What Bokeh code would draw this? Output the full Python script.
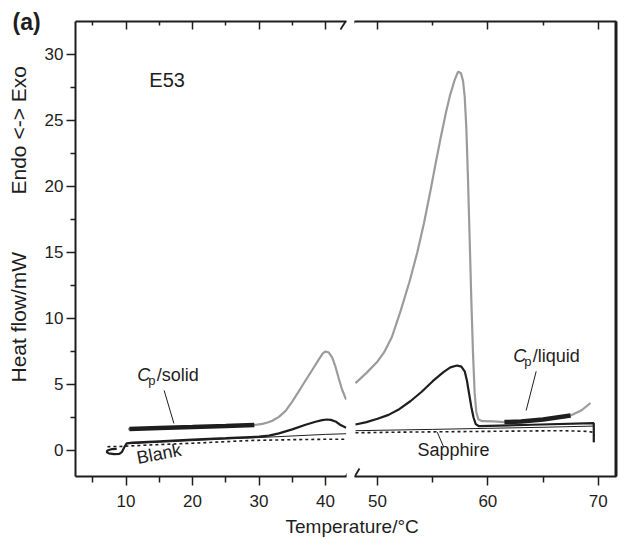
import math
from bokeh.plotting import figure
from bokeh.layouts import column, row
from bokeh.models import FixedTicker, Label, Arrow, LinearAxis, Range1d, Span
from bokeh.embed import file_html
from bokeh.resources import INLINE

FONT = "Liberation Sans"
INK = "#1e1e1e"
GRAY = "#9b9b9b"

# ---------------- data ----------------
y_major = [0, 5, 10, 15, 20, 25, 30]
y_minor = [2.5, 7.5, 12.5, 17.5, 22.5, 27.5]
xL_major = [10, 20, 30, 40]
xL_minor = [5, 15, 25, 35]
xR_major = [50, 60, 70]
xR_minor = [55, 65]

# left segment (below the axis break)
gray_L_T = [10.3, 12, 15, 20, 25, 29.3, 30.5, 31.3, 32.0, 33.0, 34.0, 35.0, 36.0, 37.0, 38.0, 39.0,
            39.6, 40.0, 40.5, 41.0, 41.5, 42.0, 42.5, 43.1]
gray_L_y = [1.62, 1.66, 1.71, 1.78, 1.86, 1.93, 2.02, 2.12, 2.25, 2.55, 3.0, 3.7, 4.5, 5.3, 6.1, 6.9,
            7.35, 7.5, 7.42, 7.05, 6.35, 5.45, 4.6, 3.86]
sample_L_T = [8.6, 7.8, 7.2, 7.1, 7.4, 8.2, 9.0, 9.4, 9.8, 10.1, 11, 15, 20, 25, 30, 31.5, 33, 35, 37,
              38.5, 39.5, 40.2, 40.8, 41.5, 42.2, 43.1]
sample_L_y = [0.12, 0.1, 0.0, -0.12, -0.22, -0.27, -0.25, -0.1, 0.3, 0.55, 0.6, 0.7, 0.82, 0.93, 1.05,
              1.13, 1.3, 1.6, 1.95, 2.18, 2.3, 2.35, 2.32, 2.2, 1.95, 1.72]
sapph_L_T = [10.0, 15, 20, 25, 30, 35, 40, 43.1]
sapph_L_y = [0.5, 0.62, 0.75, 0.87, 0.98, 1.1, 1.22, 1.27]
blank_L_T = [7.2, 8, 9, 10, 15, 20, 28.8, 35, 40, 43.1]
blank_L_y = [0.28, 0.3, 0.3, 0.33, 0.45, 0.55, 0.76, 0.82, 0.85, 0.85]
cps_T = [10.5, 15, 20, 25, 29.3]
cps_y = [1.62, 1.71, 1.78, 1.86, 1.93]

# right segment (above the axis break)
gray_R_T = [48.0, 49.0, 50.0, 50.6, 51.3, 52.1, 52.9, 53.6, 54.2, 54.8, 55.3, 55.7, 56.2, 56.6, 57.0,
            57.3, 57.55, 57.75, 57.9, 58.05, 58.2, 58.35, 58.5, 58.65, 58.8, 58.95, 59.15, 59.5,
            60.5, 61.5, 63, 65, 67.5, 68.5, 69.3]
gray_R_y = [5.1, 5.88, 6.75, 7.45, 8.6, 10.6, 12.8, 15.0, 17.2, 19.7, 21.9, 23.6, 25.6, 27.0, 28.1,
            28.7, 28.6, 28.0, 26.8, 24.4, 20.5, 16.0, 11.4, 7.4, 4.4, 2.9, 2.35, 2.22,
            2.2, 2.15, 2.2, 2.35, 2.65, 3.05, 3.6]
sample_R_T = [48.0, 49.0, 50.0, 51.0, 52.0, 53.0, 54.0, 55.0, 56.0, 56.6, 57.2, 57.6, 57.9, 58.1, 58.3,
              58.5, 58.7, 58.9, 59.2, 64, 69.6, 69.6]
sample_R_y = [1.97, 2.15, 2.4, 2.7, 3.15, 3.75, 4.45, 5.25, 5.95, 6.3, 6.44, 6.35, 6.0, 5.3, 4.3,
              3.3, 2.5, 2.0, 1.84, 1.95, 2.07, 0.63]
sapph_R_T = [48.0, 55, 60, 65, 69.6, 69.6]
sapph_R_y = [1.5, 1.6, 1.68, 1.76, 1.85, 0.63]
blank_R_T = [48.0, 52, 60, 66.6, 69.0, 69.6, 69.6]
blank_R_y = [1.34, 1.39, 1.45, 1.5, 1.45, 1.38, 1.1]
cpl_T = [61.5, 63, 65, 67.5]
cpl_y = [2.15, 2.2, 2.35, 2.65]

# ---------------- layout ----------------
Y_RANGE = (-1.97, 32.5)
XL_RANGE = (2.4, 43.16)
XR_RANGE = (47.91, 71.66)
H = 514
COMMON = dict(height=H, y_range=Y_RANGE, output_backend="svg", toolbar_location=None,
              x_axis_location=None, y_axis_location=None, min_border_top=21,
              min_border_bottom=38)

pL = figure(width=309, x_range=XL_RANGE, min_border_left=33, min_border_right=4, **COMMON)
pR = figure(width=274, x_range=XR_RANGE, min_border_left=4, min_border_right=8, **COMMON)


def base_axis(ax):
    ax.axis_line_width = 2
    ax.axis_line_color = INK
    ax.major_tick_line_color = INK
    ax.minor_tick_line_color = INK
    ax.major_tick_line_width = 1.5
    ax.minor_tick_line_width = 1.5
    ax.major_label_text_font = FONT
    ax.major_label_text_font_size = "17px"
    ax.major_label_text_color = INK
    return ax


def hidden_labels(ax):
    ax.major_label_text_font_size = "1px"
    ax.major_label_text_color = None
    ax.major_label_standoff = 0
    return ax


def bottom_axis(major, minor):
    ax = base_axis(LinearAxis(ticker=FixedTicker(ticks=major, minor_ticks=minor)))
    ax.major_tick_out = 9
    ax.major_tick_in = 0
    ax.minor_tick_out = 6
    ax.minor_tick_in = 0
    ax.major_label_standoff = 9
    return ax


def top_axis(major, minor):
    ax = hidden_labels(base_axis(LinearAxis(ticker=FixedTicker(ticks=major, minor_ticks=minor))))
    ax.major_tick_out = 0
    ax.major_tick_in = 8
    ax.minor_tick_out = 0
    ax.minor_tick_in = 4
    return ax


for p, major, minor in ((pL, xL_major, xL_minor), (pR, xR_major, xR_minor)):
    p.add_layout(bottom_axis(major, minor), "below")
    p.add_layout(top_axis(major, minor), "above")
    p.outline_line_color = None
    p.grid.visible = False

left_ax = base_axis(LinearAxis(ticker=FixedTicker(ticks=y_major, minor_ticks=y_minor)))
left_ax.major_tick_out = 9
left_ax.major_tick_in = 0
left_ax.minor_tick_out = 5
left_ax.minor_tick_in = 0
left_ax.major_label_standoff = 3
pL.add_layout(left_ax, "left")

right_ax = hidden_labels(base_axis(LinearAxis(ticker=FixedTicker(ticks=y_major, minor_ticks=[]))))
right_ax.major_tick_out = 0
right_ax.major_tick_in = 0
right_ax.minor_tick_out = 0
right_ax.minor_tick_in = 0
pR.add_layout(right_ax, "right")
# right border of the plot box
BORDER_X = XR_RANGE[1] - 0.09
pR.add_layout(Span(location=BORDER_X, dimension="height", line_color=INK, line_width=2))

# ---------------- curves ----------------
pL.line(blank_L_T, blank_L_y, line_color=INK, line_width=1.6, line_dash="3 3")
pL.line(sapph_L_T, sapph_L_y, line_color=INK, line_width=1.0)
pL.line(sample_L_T, sample_L_y, line_color=INK, line_width=2.2)
pL.line(gray_L_T, gray_L_y, line_color=GRAY, line_width=2.2)
pL.line(cps_T, cps_y, line_color=INK, line_width=4.5)

pR.line(blank_R_T, blank_R_y, line_color=INK, line_width=1.6, line_dash="3 3")
pR.line(sapph_R_T, sapph_R_y, line_color=INK, line_width=1.0)
pR.line(sample_R_T, sample_R_y, line_color=INK, line_width=2.2)
pR.line(gray_R_T, gray_R_y, line_color=GRAY, line_width=2.2)
pR.line(cpl_T, cpl_y, line_color=INK, line_width=4.5)

# pointer lines
pL.line([15.73, 17.2], [4.55, 2.05], line_color=INK, line_width=1)
pR.line([55.41, 56.0], [1.39, 0.25], line_color=INK, line_width=1)
pR.line([64.38, 63.47], [6.0, 3.03], line_color=INK, line_width=1)

# axis-break slashes
for p, (x0, x1) in ((pL, (42.26, 43.76)), (pR, (47.46, 48.36))):
    p.add_layout(Arrow(end=None, x_start=x0, y_start=31.89, x_end=x1, y_end=33.1,
                       line_color=INK, line_width=1.8))
    p.add_layout(Arrow(end=None, x_start=x0, y_start=-2.65, x_end=x1, y_end=-1.36,
                       line_color=INK, line_width=1.8))


# ---------------- texts ----------------
# (x, y) is the intended left end of the baseline; the offset corrects the
# renderer's placement of the alphabetic baseline.
def lab(p, x, y, text, size, angle=0.0, x_offset=0.0, y_offset=0.0, **kw):
    s = float(size.replace("px", ""))
    sh = 0.42 * s
    p.add_layout(Label(x=x, y=y, text=text, text_font=FONT, text_font_size=size,
                       text_color=INK, text_baseline="alphabetic", angle=angle,
                       x_offset=x_offset - sh * math.sin(angle),
                       y_offset=y_offset + sh * math.cos(angle), **kw))


lab(pL, 13.5, 27.4, "E53", "20px")
lab(pL, 11.7, 5.15, "C", "18px", text_font_style="italic")
lab(pL, 11.7, 5.15, "p", "13px", x_offset=11, y_offset=-3)
lab(pL, 11.7, 5.15, "/solid", "18px", x_offset=19.5)
lab(pL, 11.84, -1.14, "Blank", "18px", angle=0.19)

lab(pR, 53.62, -0.55, "Sapphire", "18px")
lab(pR, 62.3, 6.57, "C", "18px", text_font_style="italic")
lab(pR, 62.3, 6.57, "p", "13px", x_offset=11, y_offset=-3)
lab(pR, 62.3, 6.57, "/liquid", "18px", x_offset=19.5)

# left strip holding the panel letter and the y-axis title (pixel units, y up from bottom)
YW = 41
pY = figure(width=YW, height=H, x_range=Range1d(0, YW), y_range=Range1d(0, H),
            output_backend="svg", toolbar_location=None, x_axis_location=None,
            y_axis_location=None, min_border=0, min_border_left=0, min_border_right=0,
            min_border_top=0, min_border_bottom=0)
pY.frame_align = False
pY.outline_line_color = None
pY.grid.visible = False
lab(pY, 12, H - 31, "(a)", "23px", text_font_style="bold")
lab(pY, 27, H - 382, "Heat flow/mW", "21px", angle=math.pi / 2)
lab(pY, 27, H - 194, "Endo <-> Exo", "21px", angle=math.pi / 2)

# x-axis title spanning both panels
TW, TH = 624, 24
pT = figure(width=TW, height=TH, x_range=Range1d(0, TW), y_range=Range1d(0, TH),
            output_backend="svg", toolbar_location=None, x_axis_location=None,
            y_axis_location=None, min_border=0, min_border_left=0, min_border_right=0,
            min_border_top=0, min_border_bottom=0)
pT.frame_align = False
pT.outline_line_color = None
pT.grid.visible = False
lab(pT, 285, 4, "Temperature/°C", "19px")

layout = column(row(pY, pL, pR), pT)
open("out.html", "w").write(file_html(layout, INLINE))
